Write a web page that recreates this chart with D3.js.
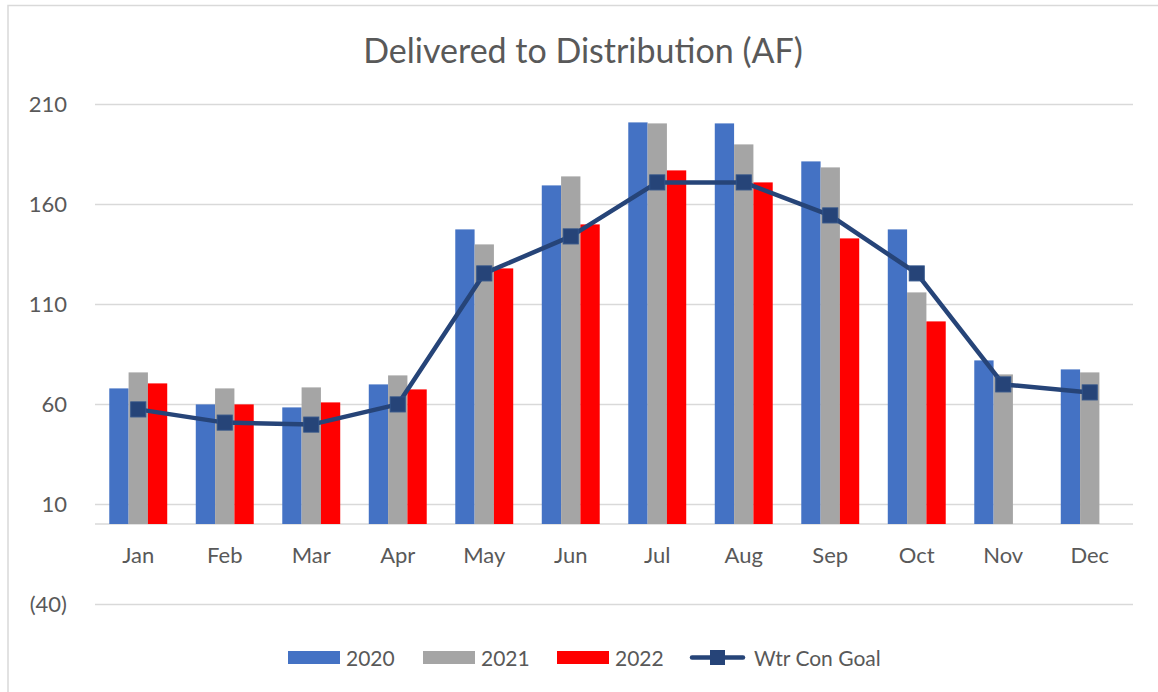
<!DOCTYPE html>
<html>
<head>
<meta charset="utf-8">
<script src="https://cdnjs.cloudflare.com/ajax/libs/d3/7.8.5/d3.min.js"></script>
<style>
  body { margin: 0; background: #fff; }
  #js_chart { width: 1158px; height: 692px; }
  text { font-family: Lato, "Open Sans", sans-serif; fill: #595959; }
</style>
</head>
<body>
<div id="js_chart"></div>
<script>
// ******************************************************
// Data
// ******************************************************
const months = ["Jan", "Feb", "Mar", "Apr", "May", "Jun", "Jul", "Aug", "Sep", "Oct", "Nov", "Dec"];
const years = ["2020", "2021", "2022"];
const values2020 = [67.8, 59.8, 58.3, 69.8, 147.3, 169.3, 200.8, 200.3, 181.3, 147.3, 81.8, 77.3];
const values2021 = [75.8, 67.8, 68.3, 74.3, 139.8, 173.8, 200.3, 189.8, 178.3, 115.8, 74.8, 75.8];
const values2022 = [70.3, 59.8, 60.8, 67.3, 127.8, 149.8, 176.8, 170.8, 142.8, 101.3, null, null];
const goal = [57.3, 50.7, 49.7, 59.8, 125.3, 143.8, 170.8, 170.8, 154.3, 125.3, 69.8, 65.8];
const yTicks = [-40, 10, 60, 110, 160, 210];

const seriesColors = ["#4472C4", "#A5A5A5", "#FF0000"];
const lineColor = "#264478";

createPlot();

function createPlot() {

    // ******************************************************
    // Settings
    // ******************************************************
    const width = 1158, height = 692;
    const plot = {left: 95, right: 1133, top: 104, bottom: 604};

    const svg = d3.select("#js_chart")
        .append("svg")
        .attr("width", width)
        .attr("height", height);

    // chart border (top + left visible, rest is cropped)
    svg.append("rect")
        .attr("x", 8).attr("y", 5.5)
        .attr("width", width + 20).attr("height", height + 20)
        .attr("fill", "none")
        .attr("stroke", "#d9d9d9")
        .attr("stroke-width", 1.5);

    const x = d3.scaleBand()
        .domain(months)
        .range([plot.left, plot.right])
        .paddingInner(0.33)
        .paddingOuter(0.165);

    const xSub = d3.scaleBand()
        .domain(years)
        .range([0, x.bandwidth()]);

    const y = d3.scaleLinear()
        .domain([-40, 210])
        .range([plot.bottom, plot.top]);

    // ******************************************************
    // Title
    // ******************************************************
    svg.append("text")
        .attr("x", 583)
        .attr("y", 63)
        .attr("text-anchor", "middle")
        .style("font-size", "34px")
        .text("Delivered to Distribution (AF)");

    // ******************************************************
    // Grid + y axis
    // ******************************************************
    const yAxis = svg.append("g")
        .attr("transform", "translate(" + plot.left + ",0)")
        .call(d3.axisLeft(y)
            .tickValues(yTicks)
            .tickSize(-(plot.right - plot.left))
            .tickPadding(28)
            .tickFormat(d => d < 0 ? "(" + Math.abs(d) + ")" : d));

    yAxis.select(".domain").remove();
    yAxis.selectAll(".tick line")
        .attr("stroke", "#d9d9d9")
        .attr("stroke-width", 1.5);
    yAxis.selectAll(".tick text")
        .style("font-size", "22px")
        .attr("fill", "#595959");

    // category axis line at zero
    svg.append("line")
        .attr("x1", plot.left).attr("x2", plot.right)
        .attr("y1", y(0)).attr("y2", y(0))
        .attr("stroke", "#d9d9d9")
        .attr("stroke-width", 1.5);

    // ******************************************************
    // Bars
    // ******************************************************
    const allSeries = [values2020, values2021, values2022];

    allSeries.forEach(function (vals, i) {
        svg.append("g")
            .selectAll("rect")
            .data(vals.map((v, j) => ({month: months[j], value: v})).filter(d => d.value !== null))
            .enter()
            .append("rect")
                .attr("x", d => x(d.month) + xSub(years[i]))
                .attr("y", d => y(d.value))
                .attr("width", xSub.bandwidth())
                .attr("height", d => y(0) - y(d.value))
                .attr("fill", seriesColors[i]);
    });

    // ******************************************************
    // Month labels
    // ******************************************************
    svg.append("g")
        .selectAll("text")
        .data(months)
        .enter()
        .append("text")
            .attr("x", d => x(d) + x.bandwidth() / 2)
            .attr("y", 563)
            .attr("text-anchor", "middle")
            .style("font-size", "22px")
            .text(d => d);

    // ******************************************************
    // Goal line
    // ******************************************************
    const line = d3.line()
        .x((d, i) => x(months[i]) + x.bandwidth() / 2)
        .y(d => y(d));

    svg.append("path")
        .datum(goal)
        .attr("d", line)
        .attr("fill", "none")
        .attr("stroke", lineColor)
        .attr("stroke-width", 4.5)
        .attr("stroke-linejoin", "round");

    const mk = 15;
    svg.append("g")
        .selectAll("rect")
        .data(goal)
        .enter()
        .append("rect")
            .attr("x", (d, i) => x(months[i]) + x.bandwidth() / 2 - mk / 2)
            .attr("y", d => y(d) - mk / 2)
            .attr("width", mk)
            .attr("height", mk)
            .attr("fill", lineColor)
            .attr("stroke", "#2f5288")
            .attr("stroke-width", 1);

    // ******************************************************
    // Legend
    // ******************************************************
    const legendY = 657.5;
    const legendItems = [
        {label: "2020", x: 288, type: "bar", color: seriesColors[0]},
        {label: "2021", x: 423, type: "bar", color: seriesColors[1]},
        {label: "2022", x: 557, type: "bar", color: seriesColors[2]},
        {label: "Wtr Con Goal", x: 690, type: "line", color: lineColor}
    ];

    const lg = svg.append("g");
    legendItems.forEach(function (it) {
        if (it.type === "bar") {
            lg.append("rect")
                .attr("x", it.x).attr("y", legendY - 6.5)
                .attr("width", 52).attr("height", 13)
                .attr("fill", it.color);
            lg.append("text")
                .attr("x", it.x + 58).attr("y", legendY + 8)
                .style("font-size", "21px")
                .text(it.label);
        } else {
            lg.append("line")
                .attr("x1", it.x + 2).attr("x2", it.x + 53)
                .attr("y1", legendY).attr("y2", legendY)
                .attr("stroke", it.color)
                .attr("stroke-width", 4.5)
                .attr("stroke-linecap", "round");
            lg.append("rect")
                .attr("x", it.x + 20).attr("y", legendY - 7.5)
                .attr("width", 15).attr("height", 15)
                .attr("fill", it.color);
            lg.append("text")
                .attr("x", it.x + 64).attr("y", legendY + 8)
                .style("font-size", "21px")
                .text(it.label);
        }
    });
}
</script>
</body>
</html>
